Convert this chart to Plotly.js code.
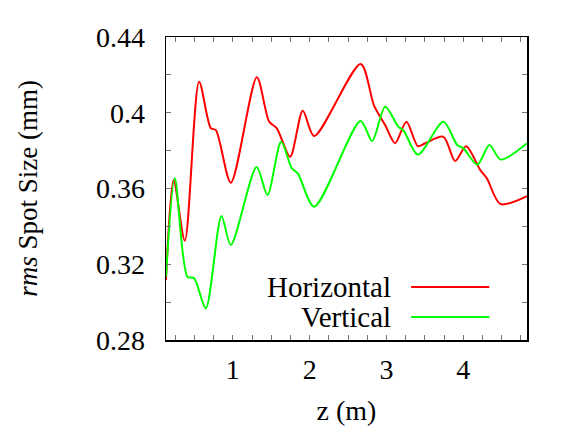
<!DOCTYPE html>
<html>
<head>
<meta charset="utf-8">
<script src="https://cdn.plot.ly/plotly-3.0.1.min.js"></script>
<style>html,body{margin:0;padding:0;background:#fff;}#chart{width:581px;height:436px;}</style>
</head>
<body>
<div id="chart"></div>
<script>
const horizZ = [0.13, 0.229, 0.375, 0.561, 0.714, 0.779, 0.974, 1.313, 1.473, 1.573, 1.746, 1.911, 2.059, 2.664, 2.840, 2.983, 3.113, 3.260, 3.410, 3.504, 3.742, 3.895, 4.038, 4.220, 4.307, 4.484, 4.83];
const horizV = [0.3117, 0.3645, 0.3324, 0.4164, 0.3918, 0.3909, 0.3631, 0.4187, 0.3953, 0.3918, 0.3768, 0.4011, 0.3877, 0.4258, 0.4036, 0.3935, 0.3839, 0.3953, 0.3823, 0.3839, 0.3873, 0.3745, 0.3823, 0.3698, 0.3654, 0.3518, 0.3560];
const vertZ = [0.13, 0.245, 0.409, 0.496, 0.648, 0.852, 0.974, 1.310, 1.451, 1.629, 1.768, 1.846, 2.059, 2.663, 2.814, 2.983, 3.156, 3.225, 3.409, 3.742, 3.921, 4.003, 4.184, 4.341, 4.487, 4.83];
const vertV = [0.3134, 0.3654, 0.3134, 0.3126, 0.2967, 0.3455, 0.3302, 0.3714, 0.3566, 0.3847, 0.3707, 0.3680, 0.3504, 0.3957, 0.3851, 0.4032, 0.3926, 0.3905, 0.3779, 0.3952, 0.3830, 0.3812, 0.3726, 0.3830, 0.3753, 0.3839];
const seriesNames = ["Horizontal", "Vertical"];
const seriesColors = ["#ff0000", "#00ff00"];
const xTickVals = [1, 2, 3, 4];
const xTickText = ["1", "2", "3", "4"];
const yTickVals = [0.28, 0.32, 0.36, 0.40, 0.44];
const yTickText = ["0.28", "0.32", "0.36", "0.4", "0.44"];

const serif = "'Liberation Serif', 'Times New Roman', serif";
const traces = [
  {x: horizZ, y: horizV, name: seriesNames[0], mode: "lines", line: {color: seriesColors[0], width: 2, shape: "spline", smoothing: 0.8}},
  {x: vertZ, y: vertV, name: seriesNames[1], mode: "lines", line: {color: seriesColors[1], width: 2, shape: "spline", smoothing: 0.8}}
];
const legendY = [0.175, 0.076];
const annotations = seriesNames.map((n, i) => ({
  xref: "paper", yref: "paper", x: 0.629, y: legendY[i], xanchor: "right", yanchor: "middle",
  text: n, showarrow: false, font: {family: serif, size: 29, color: "#000"}
}));
const shapes = seriesNames.map((n, i) => ({
  type: "line", xref: "paper", yref: "paper", x0: 0.679, x1: 0.8955, y0: legendY[i], y1: legendY[i],
  line: {color: seriesColors[i], width: 2}
}));
const layout = {
  width: 581, height: 436,
  margin: {l: 166, r: 54, t: 37, b: 96},
  paper_bgcolor: "#fff", plot_bgcolor: "#fff",
  showlegend: false,
  font: {family: serif, size: 28, color: "#000"},
  xaxis: {
    range: [0.13, 4.83], tickvals: xTickVals, ticktext: xTickText,
    ticks: "inside", ticklen: 5, tickcolor: "#777", tickwidth: 1,
    minor: {dtick: 0.25, tick0: 0, ticks: "inside", ticklen: 5, tickcolor: "#777", tickwidth: 1, showgrid: false},
    showline: true, linecolor: "#000", linewidth: 1.5, mirror: "ticks",
    showgrid: false, zeroline: false, ticklabelstandoff: 4,
    tickfont: {family: serif, size: 28, color: "#000"},
    title: {text: "z (m)", font: {family: serif, size: 28, color: "#000"}, standoff: 16}
  },
  yaxis: {
    range: [0.28, 0.44], tickvals: yTickVals, ticktext: yTickText,
    ticks: "inside", ticklen: 5, tickcolor: "#777", tickwidth: 1,
    minor: {dtick: 0.02, tick0: 0.28, ticks: "inside", ticklen: 5, tickcolor: "#777", tickwidth: 1, showgrid: false},
    showline: true, linecolor: "#000", linewidth: 1.5, mirror: "ticks",
    showgrid: false, zeroline: false, ticklabelstandoff: 14,
    tickfont: {family: serif, size: 28, color: "#000"},
    title: {text: "<i>rms</i> Spot Size (mm)", font: {family: serif, size: 27, color: "#000"}, standoff: 50}
  },
  annotations: annotations,
  shapes: shapes
};
Plotly.newPlot("chart", traces, layout, {displayModeBar: false, staticPlot: true});
</script>
</body>
</html>
